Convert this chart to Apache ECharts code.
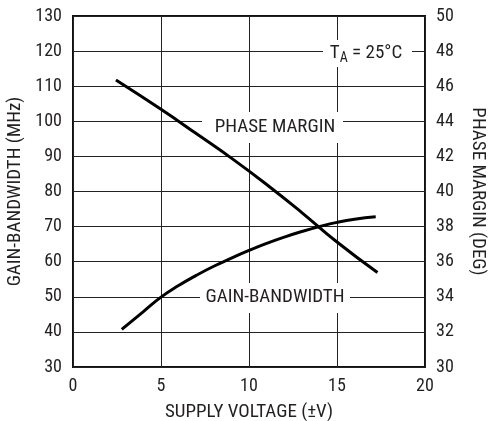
<!DOCTYPE html>
<html>
<head>
<meta charset="utf-8">
<script src="https://cdn.jsdelivr.net/npm/echarts@6/dist/echarts.min.js"></script>
<style>html,body{margin:0;padding:0;background:#fff}#c{width:491px;height:421px}</style>
</head>
<body>
<div id="c"></div>
<script>
// Data
const phaseVolts = [2.44, 5, 7, 9, 11, 13, 15, 17.3];
const phaseDeg   = [46.35, 44.68, 43.3, 41.9, 40.4, 38.8, 37.12, 35.38];
const gainVolts  = [2.77, 4, 5, 6, 7, 8, 9, 10, 11, 12, 13, 14, 15, 16, 17.2];
const gainMHz    = [40.7, 45.8, 49.9, 53.2, 56.1, 58.7, 61.0, 63.2, 65.2, 67.0, 68.6, 70.0, 71.2, 72.1, 72.8];
const xTicks = [0, 5, 10, 15, 20];
const leftTicks = [30, 40, 50, 60, 70, 80, 90, 100, 110, 120, 130];
const rightTicks = [30, 32, 34, 36, 38, 40, 42, 44, 46, 48, 50];

const FONT = '"Roboto Condensed", "Liberation Sans", Arial, sans-serif';
const TXT = '#231f20';
const FS = 18;   // tick labels
const FL = 19;   // titles and annotations

const chart = echarts.init(document.getElementById('c'), null, {renderer: 'canvas'});
const gridLine = {show: true, lineStyle: {color: '#222', width: 1}};
const lbl = {color: TXT, fontFamily: FONT, fontSize: FS};
const nm = {color: TXT, fontFamily: FONT, fontSize: FL};

chart.setOption({
  animation: false,
  backgroundColor: '#fff',
  grid: {left: 73, right: 66, top: 16, bottom: 54, containLabel: false, outerBoundsMode: 'none',
         show: true, borderColor: '#111', borderWidth: 2, backgroundColor: 'transparent'},
  xAxis: {
    type: 'value', min: xTicks[0], max: xTicks[xTicks.length-1], interval: 5,
    name: 'SUPPLY VOLTAGE (±V)', nameLocation: 'middle', nameGap: 36,
    nameTextStyle: nm,
    axisLine: {show: false}, axisTick: {show: false},
    axisLabel: Object.assign({margin: 10}, lbl),
    splitLine: gridLine
  },
  yAxis: [{
    type: 'value', min: leftTicks[0], max: leftTicks[leftTicks.length-1], interval: 10,
    name: 'GAIN-BANDWIDTH (MHz)', nameLocation: 'middle', nameGap: 46,
    nameTextStyle: nm,
    axisLine: {show: false}, axisTick: {show: false},
    axisLabel: Object.assign({margin: 11}, lbl),
    splitLine: gridLine
  }, {
    type: 'value', min: rightTicks[0], max: rightTicks[rightTicks.length-1], interval: 2,
    position: 'right',
    name: 'PHASE MARGIN (DEG)', nameLocation: 'middle', nameGap: 43, nameRotate: -90,
    nameTextStyle: nm,
    axisLine: {show: false}, axisTick: {show: false},
    axisLabel: Object.assign({margin: 11}, lbl),
    splitLine: {show: false}
  }],
  series: [{
    type: 'line', name: 'GAIN-BANDWIDTH', yAxisIndex: 0, z: 3,
    data: gainVolts.map((v, i) => [v, gainMHz[i]]),
    smooth: true, showSymbol: false,
    lineStyle: {color: '#000', width: 3}
  }, {
    type: 'line', name: 'PHASE MARGIN', yAxisIndex: 1, z: 3,
    data: phaseVolts.map((v, i) => [v, phaseDeg[i]]),
    smooth: true, showSymbol: false,
    lineStyle: {color: '#000', width: 3}
  }],
  graphic: [
    {type: 'rect', z: 1, shape: {x: 202, y: 112, width: 141, height: 31}, style: {fill: '#fff'}},
    {type: 'text', z: 1, z2: 5, x: 275, y: 127, style: {text: 'PHASE MARGIN', fill: TXT, font: FL + 'px ' + FONT, align: 'center', verticalAlign: 'middle'}},
    {type: 'rect', z: 1, shape: {x: 200, y: 283, width: 150, height: 30}, style: {fill: '#fff'}},
    {type: 'text', z: 1, z2: 5, x: 275, y: 297, style: {text: 'GAIN-BANDWIDTH', fill: TXT, font: FL + 'px ' + FONT, align: 'center', verticalAlign: 'middle'}},
    {type: 'rect', z: 1, shape: {x: 323, y: 40, width: 89, height: 27}, style: {fill: '#fff'}},
    {type: 'text', z: 1, z2: 5, x: 366, y: 53, style: {
      text: '{t|T}{s|A}{t| = 25°C}', align: 'center', verticalAlign: 'middle',
      rich: {
        t: {fill: TXT, fontFamily: FONT, fontSize: FL, verticalAlign: 'middle'},
        s: {fill: TXT, fontFamily: FONT, fontSize: 14, padding: [10, 0, 0, 0]}
      }
    }}
  ]
});
</script>
</body>
</html>
